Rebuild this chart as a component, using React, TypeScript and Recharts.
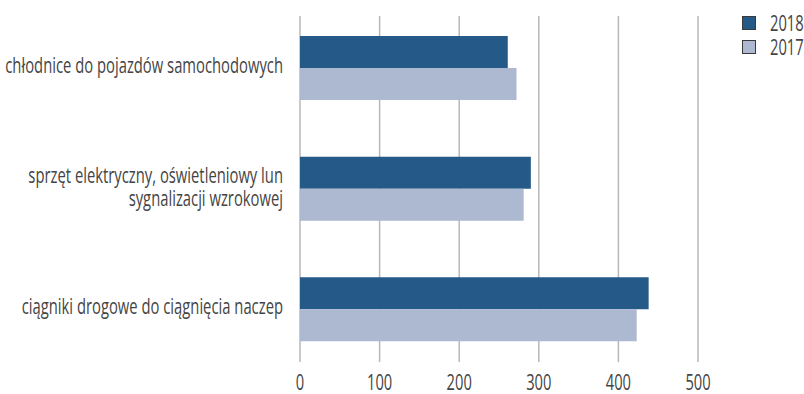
import { BarChart, Bar, XAxis, YAxis, CartesianGrid, Legend } from 'recharts'

const categories = [
  'chłodnice do pojazdów samochodowych',
  'sprzęt elektryczny, oświetleniowy lun\nsygnalizacji wzrokowej',
  'ciągniki drogowe do ciągnięcia naczep',
]
const values2018 = [261, 290, 438]
const values2017 = [272, 281, 423]
const xTicks = [0, 100, 200, 300, 400, 500]

const series = [
  { key: 'y2018', name: '2018', color: '#255a88' },
  { key: 'y2017', name: '2017', color: '#adb9d1' },
]

const data = categories.map((name, i) => ({
  name,
  y2018: values2018[i],
  y2017: values2017[i],
}))

const FONT = '"Open Sans", "Noto Sans", sans-serif'
const TEXT = '#444444'
const FS = 21
// no condensed face is installed, so squeeze the text horizontally
const SQ_LABEL = 0.705
const SQ_NUM = 0.7

const squeeze = (x: number, s: number) => `translate(${x},0) scale(${s},1) translate(${-x},0)`

const CategoryTick = (props: any) => {
  const { x, y, payload } = props
  const lines: string[] = String(payload.value).split('\n')
  const lh = 23
  const start = y - ((lines.length - 1) * lh) / 2 + (lines.length > 1 ? 1 : 0)
  return (
    <text
      x={x}
      y={start}
      textAnchor="end"
      fill={TEXT}
      fontSize={FS}
      fontFamily={FONT}
      transform={squeeze(x, SQ_LABEL)}
    >
      {lines.map((l, i) => (
        <tspan key={i} x={x} y={start + i * lh} dy="0.22em">
          {l}
        </tspan>
      ))}
    </text>
  )
}

const ValueTick = (props: any) => {
  const { x, y, payload } = props
  return (
    <text
      x={x}
      y={y}
      dy="0.71em"
      textAnchor="middle"
      fill={TEXT}
      fontSize={FS}
      fontFamily={FONT}
      transform={squeeze(x, SQ_NUM)}
    >
      {payload.value}
    </text>
  )
}

const LegendBox = () => (
  <div style={{ fontFamily: FONT, fontSize: FS, lineHeight: '24px', color: TEXT }}>
    {series.map((s) => (
      <div key={s.key} style={{ display: 'flex', alignItems: 'center', height: 24 }}>
        <span
          style={{
            display: 'inline-block',
            flexShrink: 0,
            boxSizing: 'border-box',
            width: 14,
            height: 14,
            background: s.color,
            border: '1px solid #3a3a3a',
            marginRight: 14,
          }}
        />
        <span
          style={{
            display: 'inline-block',
            whiteSpace: 'nowrap',
            transform: `scaleX(${SQ_NUM})`,
            transformOrigin: 'left center',
          }}
        >
          {s.name}
        </span>
      </div>
    ))}
  </div>
)

export default function App() {
  return (
    <div style={{ position: 'absolute', left: 0, top: 0, background: '#fff' }}>
      <BarChart
        width={804}
        height={394}
        data={data}
        layout="vertical"
        margin={{ top: 8, right: 106, bottom: 0, left: 0 }}
        barGap={0}
      >
        <CartesianGrid
          horizontal={false}
          stroke="#b8b8b8"
          strokeWidth={1.5}
          y={16}
          height={346}
        />
        <XAxis
          type="number"
          domain={[0, 500]}
          ticks={xTicks}
          axisLine={false}
          tickLine={false}
          tickSize={0}
          tickMargin={5}
          height={24}
          tick={<ValueTick />}
        />
        <YAxis
          type="category"
          dataKey="name"
          width={300}
          axisLine={false}
          tickLine={false}
          tickSize={0}
          tickMargin={17}
          interval={0}
          tick={<CategoryTick />}
        />
        <Legend
          layout="vertical"
          verticalAlign="middle"
          align="center"
          content={<LegendBox />}
          wrapperStyle={{ position: 'absolute', left: 742, top: 11, width: 62 }}
        />
        {series.map((s) => (
          <Bar
            key={s.key}
            dataKey={s.key}
            name={s.name}
            fill={s.color}
            barSize={32}
            isAnimationActive={false}
          />
        ))}
      </BarChart>
    </div>
  )
}
